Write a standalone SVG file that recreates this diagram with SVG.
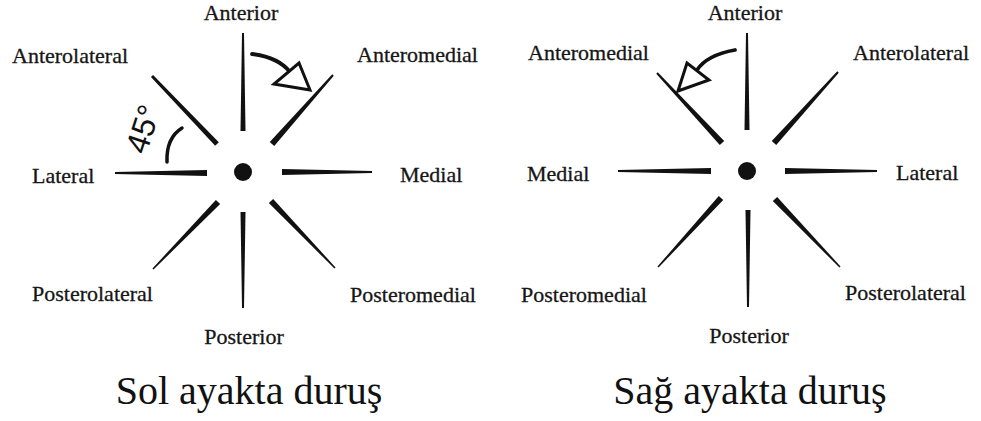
<svg xmlns="http://www.w3.org/2000/svg" width="981" height="421" viewBox="0 0 981 421">
<style>
.lbl{font-family:"Liberation Serif","Times New Roman",serif;font-size:22px;fill:#161616;stroke:#161616;stroke-width:0.3}
.ttl{font-family:"Liberation Serif","Times New Roman",serif;font-size:40px;fill:#111}
.ray{fill:#111}
.dot{fill:#111}
.shaft{fill:none;stroke:#111;stroke-width:3.8;stroke-linecap:round}
.head{fill:#fff;stroke:#111;stroke-width:3;stroke-linejoin:miter}
.deg{font-family:"Liberation Sans",Arial,sans-serif;font-size:32px;fill:#111}
</style>
<rect width="981" height="421" fill="#fff"/>

<!-- LEFT: Sol ayakta duruş -->
<g id="left-center"><circle class="dot" cx="243" cy="172" r="9"/></g>
<g id="left-anterior">
<polygon class="ray" points="242,33 244,33 245.5,131 240.5,131"/>
<text class="lbl" x="241" y="20" text-anchor="middle">Anterior</text>
</g>
<g id="left-anteromedial">
<polygon class="ray" points="333.75,75.66 332.25,74.34 269.75,142.01 274.25,145.99"/>
<text class="lbl" x="357" y="62">Anteromedial</text>
</g>
<g id="left-anterolateral">
<polygon class="ray" points="153.08,74.96 150.92,77.04 215.19,145.73 218.81,142.27"/>
<text class="lbl" x="12" y="63">Anterolateral</text>
</g>
<g id="left-lateral">
<polygon class="ray" points="115,172 207,170 207,176 115,174"/>
<text class="lbl" x="32" y="183">Lateral</text>
</g>
<g id="left-medial">
<polygon class="ray" points="372,171 372,173 282,175 282,169"/>
<text class="lbl" x="400" y="182">Medial</text>
</g>
<g id="left-posterolateral">
<polygon class="ray" points="220.15,204.09 215.85,199.91 152.46,268.48 153.54,269.52"/>
<text class="lbl" x="32" y="301">Posterolateral</text>
</g>
<g id="left-posterior">
<polygon class="ray" points="240.5,212 245.5,212 244,308 242,308"/>
<text class="lbl" x="244" y="344" text-anchor="middle">Posterior</text>
</g>
<g id="left-posteromedial">
<polygon class="ray" points="273.17,198.93 268.83,203.07 334.46,268.52 335.54,267.48"/>
<text class="lbl" x="350" y="302">Posteromedial</text>
</g>
<g id="left-angle">
<text class="deg" transform="translate(143,129) rotate(-72)" x="0" y="11" text-anchor="middle">45°</text>
<path d="M182,128 Q166,138 167,162" fill="none" stroke="#111" stroke-width="3.5" stroke-linecap="round"/>
</g>
<g id="left-title"><text class="ttl" x="249" y="404" text-anchor="middle">Sol ayakta duruş</text></g>

<!-- RIGHT: Sağ ayakta duruş -->
<g id="right-center"><circle class="dot" cx="747" cy="171" r="9"/></g>
<g id="right-anterior">
<polygon class="ray" points="746,33 748,33 749.5,130 744.5,130"/>
<text class="lbl" x="745" y="20" text-anchor="middle">Anterior</text>
</g>
<g id="right-anteromedial">
<polygon class="ray" points="657.73,72.32 656.27,73.68 719.8,145.04 724.2,140.96"/>
<text class="lbl" x="528" y="60">Anteromedial</text>
</g>
<g id="right-anterolateral">
<polygon class="ray" points="838.74,72.67 837.26,71.33 771.77,140.99 776.23,145.01"/>
<text class="lbl" x="853" y="60">Anterolateral</text>
</g>
<g id="right-medial">
<polygon class="ray" points="618,170 618,172 711,174 711,168"/>
<text class="lbl" x="527" y="181">Medial</text>
</g>
<g id="right-lateral">
<polygon class="ray" points="785,168 785,174 877,172 877,170"/>
<text class="lbl" x="896" y="180">Lateral</text>
</g>
<g id="right-posteromedial">
<polygon class="ray" points="723.22,200.02 718.78,195.98 657.45,266.49 658.55,267.51"/>
<text class="lbl" x="521" y="302">Posteromedial</text>
</g>
<g id="right-posterior">
<polygon class="ray" points="745.5,210 750.5,210 749,307 747,307"/>
<text class="lbl" x="749" y="343" text-anchor="middle">Posterior</text>
</g>
<g id="right-posterolateral">
<polygon class="ray" points="777.17,196.93 772.83,201.07 839.46,267.52 840.54,266.48"/>
<text class="lbl" x="845" y="300">Posterolateral</text>
</g>
<g id="right-title"><text class="ttl" x="750" y="404" text-anchor="middle">Sağ ayakta duruş</text></g>

<!-- connectors: rotation arrows -->
<g id="connectors">
<path class="shaft" d="M252,54 Q278,57 290,72"/>
<polygon class="head" points="310,90 274,84 299,63"/>
<path class="shaft" d="M735,50 Q707,55 697,70"/>
<polygon class="head" points="678,91 687,63 709,80"/>
</g>
</svg>
